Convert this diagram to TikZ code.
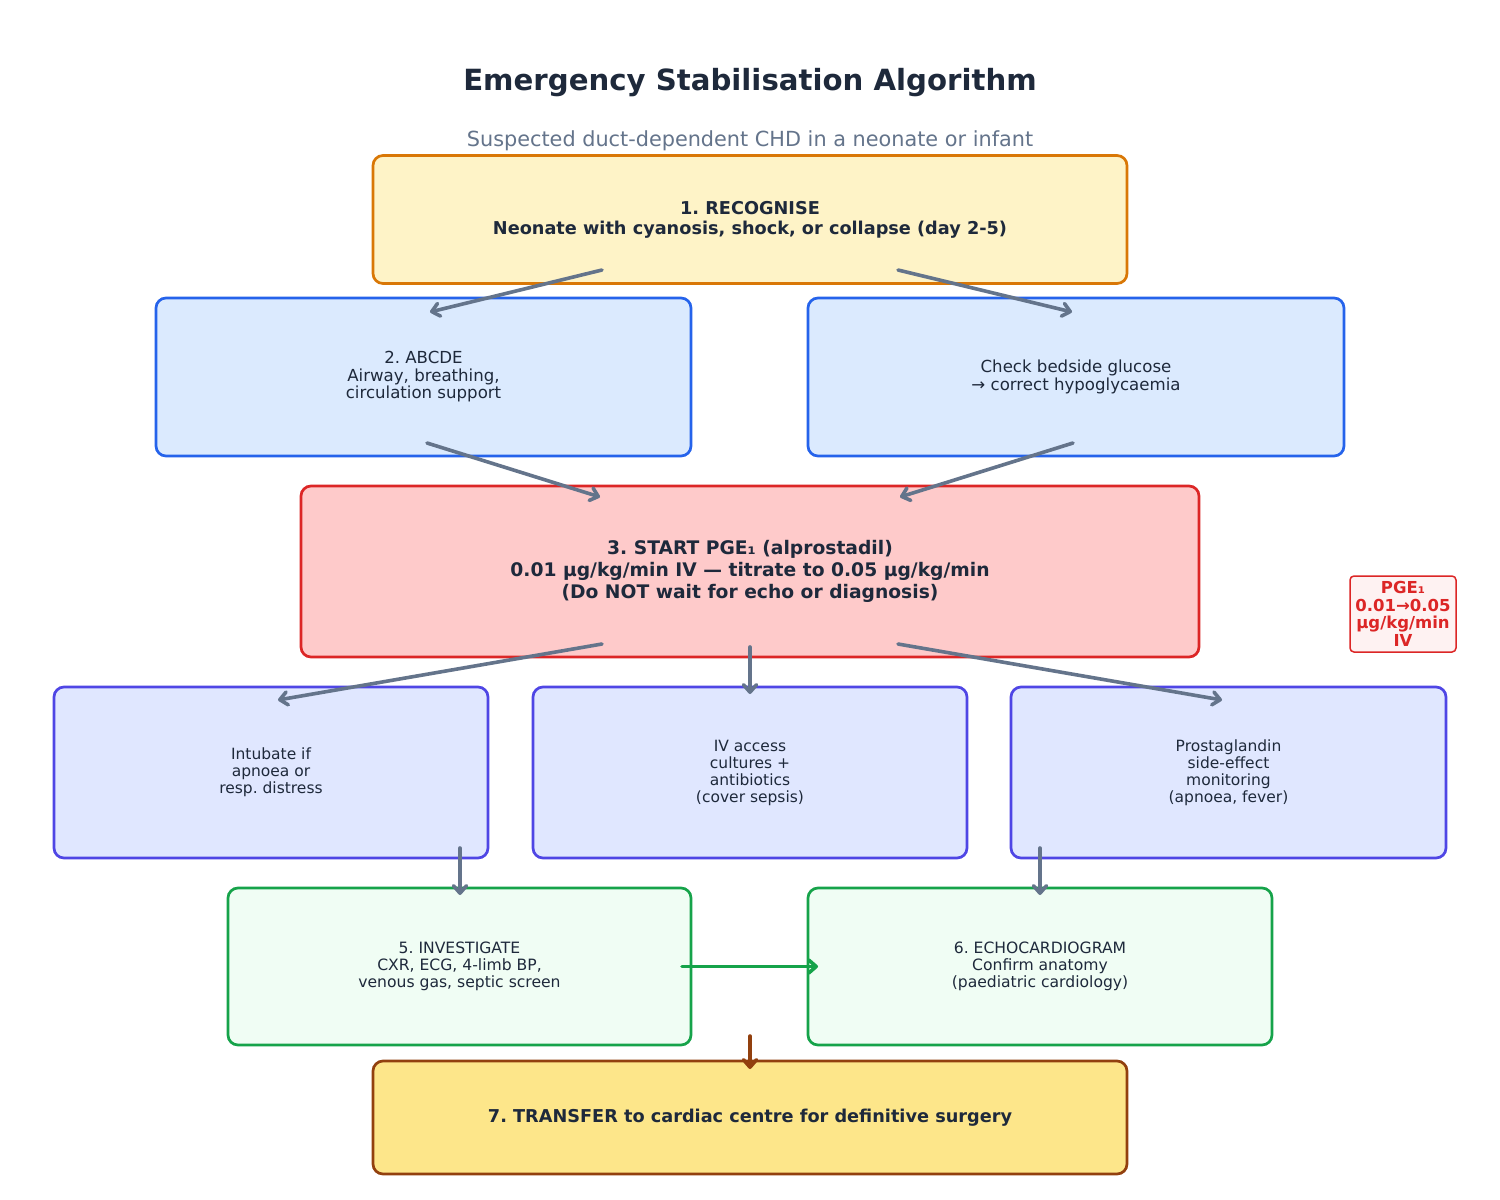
\documentclass[tikz,border=0pt]{standalone}
\usepackage{fontspec}
\setmainfont{DejaVu Sans}
\usetikzlibrary{arrows.meta}
\definecolor{ink}{HTML}{1E293B}
\definecolor{subt}{HTML}{64748B}
\definecolor{arr}{HTML}{64748B}
\definecolor{yfill}{HTML}{FEF3C7}\definecolor{ydraw}{HTML}{D97706}
\definecolor{bfill}{HTML}{DBEAFE}\definecolor{bdraw}{HTML}{2563EB}
\definecolor{rfill}{HTML}{FECACA}\definecolor{rdraw}{HTML}{DC2626}
\definecolor{pfill}{HTML}{FEF2F2}
\definecolor{ifill}{HTML}{E0E7FF}\definecolor{idraw}{HTML}{4F46E5}
\definecolor{gfill}{HTML}{F0FDF4}\definecolor{gdraw}{HTML}{16A34A}
\definecolor{tfill}{HTML}{FDE68A}\definecolor{tdraw}{HTML}{92400E}
\tikzset{
  box/.style={rectangle, rounded corners=10pt, line width=2.7pt, align=center, text=ink, inner sep=0pt},
  fnt/.style 2 args={font=\fontsize{#1}{#2}\selectfont\frenchspacing},
  bfnt/.style 2 args={font=\fontsize{#1}{#2}\selectfont\bfseries\frenchspacing},
  conn/.style={draw=arr, line width=3.6pt, -{Straight Barb[length=7.5pt,width=13pt,line join=round,line cap=round]}, line cap=round},
}
\begin{document}
\begin{tikzpicture}[x=1pt,y=-1pt]
\useasboundingbox (0,0) rectangle (1500,1200);
\fill[white] (0,0) rectangle (1500,1200);

\node[text=ink, bfnt={29.2}{34}] (title) at (750,83) {Emergency Stabilisation Algorithm};
\node[text=subt, fnt={20.8}{24}] (sub) at (750,140.5) {Suspected duct-dependent CHD in a neonate or infant};

\node[box, fill=yfill, draw=ydraw, minimum width=754pt, minimum height=128pt, bfnt={17.7}{20}] (n1) at (750,219.5) {1. RECOGNISE\\Neonate with cyanosis, shock, or collapse (day 2-5)};

\node[box, fill=bfill, draw=bdraw, minimum width=535pt, minimum height=158pt, fnt={16.6}{17.5}] (n2) at (423.5,377) {2. ABCDE\\Airway, breathing,\\circulation support};
\node[box, fill=bfill, draw=bdraw, minimum width=536pt, minimum height=158pt, fnt={16.6}{17.5}] (ng) at (1076,377) {Check bedside glucose\\→ correct hypoglycaemia};

\node[box, fill=rfill, draw=rdraw, minimum width=898pt, minimum height=171pt, bfnt={18.7}{22}] (n3) at (750,571.5) {3. START PGE₁ (alprostadil)\\0.01 µg/kg/min IV — titrate to 0.05 µg/kg/min\\(Do NOT wait for echo or diagnosis)};

\node[rectangle, rounded corners=4pt, fill=pfill, draw=rdraw, line width=1.5pt, minimum width=106pt, minimum height=76pt, inner sep=0pt, align=center, text=rdraw, bfnt={16.5}{17.5}] (side) at (1403,614) {PGE₁\\0.01→0.05\\µg/kg/min\\IV};

\node[box, fill=ifill, draw=idraw, minimum width=434pt, minimum height=171pt, fnt={15.5}{17}] (n4a) at (271,772.5) {Intubate if\\apnoea or\\resp. distress};
\node[box, fill=ifill, draw=idraw, minimum width=434pt, minimum height=171pt, fnt={15.5}{17}] (n4b) at (750,772.5) {IV access\\cultures +\\antibiotics\\(cover sepsis)};
\node[box, fill=ifill, draw=idraw, minimum width=435pt, minimum height=171pt, fnt={15.5}{17}] (n4c) at (1228.5,772.5) {Prostaglandin\\side-effect\\monitoring\\(apnoea, fever)};

\node[box, fill=gfill, draw=gdraw, minimum width=463pt, minimum height=157pt, fnt={15.6}{17}] (n5) at (459.5,966.5) {5. INVESTIGATE\\CXR, ECG, 4-limb BP,\\venous gas, septic screen};
\node[box, fill=gfill, draw=gdraw, minimum width=464pt, minimum height=157pt, fnt={15.6}{17}] (n6) at (1040,966.5) {6. ECHOCARDIOGRAM\\Confirm anatomy\\(paediatric cardiology)};

\node[box, fill=tfill, draw=tdraw, minimum width=754pt, minimum height=113pt, bfnt={17.7}{20}] (n7) at (750,1117.5) {7. TRANSFER to cardiac centre for definitive surgery};

% connector end points
\coordinate (a1s) at (602,270); \coordinate (a1e) at (430,312);
\coordinate (a2s) at (898,270); \coordinate (a2e) at (1072,312);
\coordinate (a3s) at (427,443); \coordinate (a3e) at (600,497);
\coordinate (a4s) at (1073,443); \coordinate (a4e) at (900,497);
\coordinate (a5s) at (602,644); \coordinate (a5e) at (278,700);
\coordinate (a6s) at (750,647); \coordinate (a6e) at (750,694);
\coordinate (a7s) at (898,644); \coordinate (a7e) at (1222,700);
\coordinate (a8s) at (460,848); \coordinate (a8e) at (460,895);
\coordinate (a9s) at (1040,848); \coordinate (a9e) at (1040,895);
\coordinate (agS) at (682,966.5); \coordinate (agE) at (818,966.5);
\coordinate (abS) at (750,1036); \coordinate (abE) at (750,1069);

\draw[conn] (a1s) -- (a1e);
\draw[conn] (a2s) -- (a2e);
\draw[conn] (a3s) -- (a3e);
\draw[conn] (a4s) -- (a4e);
\draw[conn] (a5s) -- (a5e);
\draw[conn] (a6s) -- (a6e);
\draw[conn] (a7s) -- (a7e);
\draw[conn] (a8s) -- (a8e);
\draw[conn] (a9s) -- (a9e);
\draw[conn, draw=gdraw] (agS) -- (agE);
\draw[conn, draw=tdraw] (abS) -- (abE);
\end{tikzpicture}
\end{document}
